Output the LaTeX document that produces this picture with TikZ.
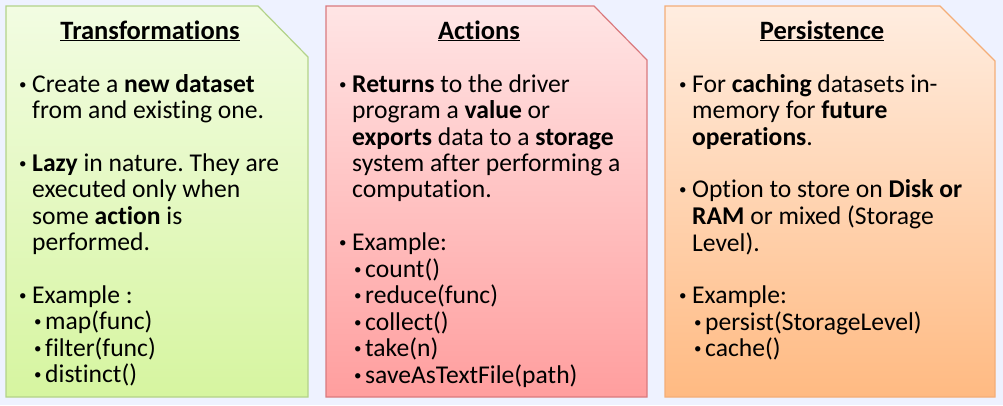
\documentclass[tikz,border=0pt]{standalone}
\usepackage{fontspec}
\setmainfont{Carlito}[Ligatures=NoCommon]
\frenchspacing
\definecolor{bgblue}{HTML}{EEF2FF}
\definecolor{greentop}{HTML}{F2FCE2}
\definecolor{greenbot}{HTML}{D6F5A0}
\definecolor{greenline}{HTML}{B3D389}
\definecolor{redtop}{HTML}{FFE5E5}
\definecolor{redbot}{HTML}{FF9E9E}
\definecolor{redline}{HTML}{D97A7E}
\definecolor{orangetop}{HTML}{FFEDE0}
\definecolor{orangebot}{HTML}{FFBA82}
\definecolor{orangeline}{HTML}{F4AE78}
\newcommand{\bul}{\makebox[16pt][l]{\hspace{3pt}\raisebox{3pt}{\fontsize{15}{15}\selectfont•}}}
\newcommand{\subbul}{\makebox[13pt][l]{\hspace{2pt}\raisebox{3pt}{\fontsize{15}{15}\selectfont•}}}
\begin{document}
\begin{tikzpicture}
        [
            x=1pt,
            y=-1pt,
            panel/.style={line width=1.2pt},
            title/.style={anchor=base, font=\fontsize{26.5}{28}\selectfont\bfseries},
            body/.style={anchor=north west, inner sep=0pt, font=\fontsize{25.6}{26.3}\selectfont}
        ]
        \fill[bgblue] (0,0) rectangle (1003,405);

        % the three cards
        \path[panel, draw=greenline, top color=greentop, bottom color=greenbot]
        (6,6) -- (258,6) -- (308,57) -- (308,397) -- (6,397) -- cycle;
        \path[panel, draw=redline, top color=redtop, bottom color=redbot]
        (326,6) -- (594,6) -- (647,60) -- (647,397) -- (326,397) -- cycle;
        \path[panel, draw=orangeline, top color=orangetop, bottom color=orangebot]
        (665,6) -- (940,6) -- (995,61) -- (995,397) -- (665,397) -- cycle;

        \node[title] (trans) at (150,39) {\underline{Transformations}};
        \node[title] (act) at (479,39) {\underline{Actions}};
        \node[title] (pers) at (822,39) {\underline{Persistence}};

        \node[body] (transtext) at (16,74) {\begin{tabular}{@{}l@{}l@{}}
        \bul & Create a \textbf{new dataset}\\
          & from and existing one.\\
          & \\
        \bul & \textbf{Lazy} in nature. They are\\
          & executed only when\\
          & some \textbf{action} is\\
          & performed.\\
          & \\
        \bul & Example :\\
          & \subbul map(func)\\
          & \subbul filter(func)\\
          & \subbul distinct()
        \end{tabular}};
        \node[body] (acttext) at (336,74) {\begin{tabular}{@{}l@{}l@{}}
        \bul & \textbf{Returns} to the driver\\
          & program a \textbf{value} or\\
          & \textbf{exports} data to a \textbf{storage}\\
          & system after performing a\\
          & computation.\\
          & \\
        \bul & Example:\\
          & \subbul count()\\
          & \subbul reduce(func)\\
          & \subbul collect()\\
          & \subbul take(n)\\
          & \subbul saveAsTextFile(path)
        \end{tabular}};
        \node[body] (perstext) at (676,74) {\begin{tabular}{@{}l@{}l@{}}
        \bul & For \textbf{caching} datasets in-\\
          & memory for \textbf{future}\\
          & \textbf{operations}.\\
          & \\
        \bul & Option to store on \textbf{Disk or}\\
          & \textbf{RAM} or mixed (Storage\\
          & Level).\\
          & \\
        \bul & Example:\\
          & \subbul persist(StorageLevel)\\
          & \subbul cache()
        \end{tabular}};

    \end{tikzpicture}
\end{document}
